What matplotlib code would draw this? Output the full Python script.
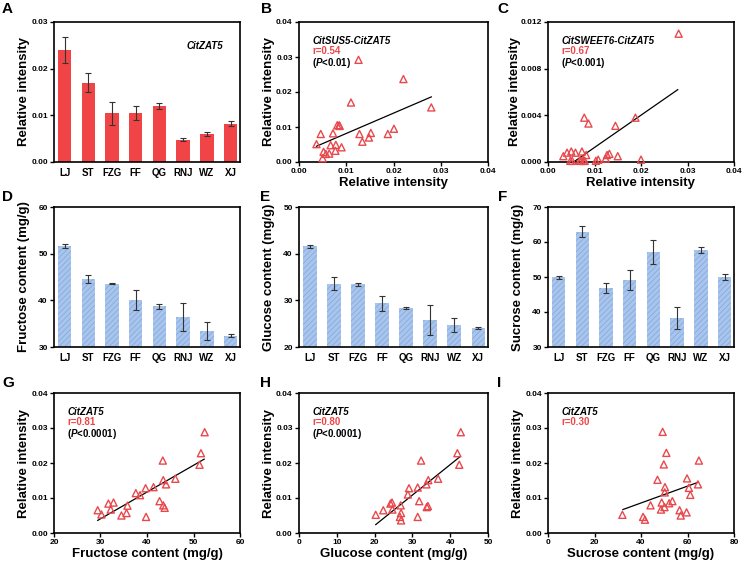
import matplotlib
matplotlib.use("Agg")
import matplotlib.pyplot as plt

# fonts: Arial-like bold everywhere
plt.rcParams['font.family'] = ['Liberation Sans', 'DejaVu Sans']
plt.rcParams['font.weight'] = 'bold'
plt.rcParams['axes.labelweight'] = 'bold'
plt.rcParams['mathtext.fontset'] = 'custom'
plt.rcParams['mathtext.rm'] = 'Liberation Sans:bold'
plt.rcParams['mathtext.it'] = 'Liberation Sans:bold:italic'
plt.rcParams['hatch.linewidth'] = 0.6

# ---------------- data ----------------
cultivars = ["LJ", "ST", "FZG", "FF", "QG", "RNJ", "WZ", "XJ"]

zat5_mean = [0.0240, 0.0170, 0.0104, 0.0104, 0.0120, 0.0048, 0.0060, 0.0082]
zat5_err = [0.0028, 0.0021, 0.0025, 0.0015, 0.0007, 0.0004, 0.0004, 0.0005]

fructose_mean = [51.7, 44.6, 43.6, 40.1, 38.7, 36.4, 33.4, 32.4]
fructose_err = [0.4, 0.9, 0.1, 2.2, 0.6, 3.0, 1.9, 0.3]

glucose_mean = [41.6, 33.6, 33.4, 29.4, 28.4, 25.7, 24.8, 24.1]
glucose_err = [0.35, 1.35, 0.25, 1.6, 0.15, 3.2, 1.5, 0.2]

sucrose_mean = [49.9, 63.0, 46.9, 49.1, 57.2, 38.2, 57.7, 50.0]
sucrose_err = [0.4, 1.6, 1.5, 2.9, 3.5, 3.1, 0.8, 0.9]

# B: CitSUS5 vs CitZAT5
b_x = [0.0037, 0.0046, 0.0050, 0.0052, 0.0057, 0.0064, 0.0067, 0.0072, 0.0078, 0.0077,
       0.0081, 0.0085, 0.0086, 0.0090, 0.0110, 0.0126, 0.0128, 0.0134, 0.0148, 0.0152,
       0.0188, 0.0201, 0.0221, 0.0280]
b_y = [0.0051, 0.0080, 0.0011, 0.0029, 0.0023, 0.0024, 0.0048, 0.0082, 0.0049, 0.0032,
       0.0105, 0.0105, 0.0103, 0.0042, 0.0170, 0.0292, 0.0080, 0.0058, 0.0070, 0.0083,
       0.0080, 0.0095, 0.0237, 0.0156]
b_fit_x = [0.0037, 0.0280]
b_fit_y = [0.0045, 0.0186]

# C: CitSWEET6 vs CitZAT5
c_x = [0.0033, 0.0041, 0.0048, 0.0050, 0.0052, 0.0059, 0.0068, 0.0073, 0.0071, 0.0076,
       0.0078, 0.0082, 0.0087, 0.0103, 0.0108, 0.0124, 0.0127, 0.0132, 0.0145, 0.0150,
       0.0188, 0.0200, 0.0281, 0.0079]
c_y = [0.0005, 0.0008, 0.0001, 0.0009, 0.0001, 0.0008, 0.0001, 0.0009, 0.0001, 0.0001,
       0.0038, 0.0006, 0.0033, 0.0001, 0.0002, 0.0003, 0.0006, 0.0007, 0.0031, 0.0005,
       0.0038, 0.0002, 0.0110, 0.0001]
c_fit_x = [0.0055, 0.0279]
c_fit_y = [0.0, 0.0062]

# G: fructose vs CitZAT5
g_x = [29.4, 30.2, 31.7, 32.2, 32.8, 34.5, 35.6, 35.8, 37.6, 38.5, 39.7, 39.8,
       41.4, 42.7, 43.4, 43.5, 43.5, 43.8, 44.1, 46.1, 51.3, 51.6, 52.4]
g_y = [0.0065, 0.0053, 0.0084, 0.0067, 0.0087, 0.0050, 0.0057, 0.0078, 0.0114, 0.0108,
       0.0128, 0.0046, 0.0131, 0.0091, 0.0207, 0.0151, 0.0079, 0.0072, 0.0139, 0.0155,
       0.0195, 0.0228, 0.0288]
g_fit_x = [29.4, 52.3]
g_fit_y = [0.0036, 0.0211]

# H: glucose vs CitZAT5
h_x = [20.3, 22.3, 24.2, 24.6, 24.7, 26.7, 26.9, 27.0, 27.0, 28.8, 29.1, 31.4,
       31.4, 31.8, 32.3, 33.7, 33.8, 34.1, 34.2, 36.8, 41.9, 42.4, 42.8]
h_y = [0.0052, 0.0065, 0.0084, 0.0087, 0.0067, 0.0046, 0.0079, 0.0057, 0.0036, 0.0110,
       0.0128, 0.0130, 0.0046, 0.0091, 0.0207, 0.0139, 0.0074, 0.0077, 0.0151, 0.0155,
       0.0228, 0.0195, 0.0288]
h_fit_x = [20.3, 42.6]
h_fit_y = [0.0024, 0.0218]

# I: sucrose vs CitZAT5
i_x = [32.0, 40.9, 41.7, 44.1, 47.1, 48.6, 48.9, 49.3, 49.8, 50.1, 50.2, 50.3,
       50.9, 52.1, 53.5, 56.6, 57.1, 59.6, 59.8, 60.6, 61.2, 64.5, 64.9]
i_y = [0.0052, 0.0046, 0.0038, 0.0079, 0.0152, 0.0067, 0.0087, 0.0289, 0.0196, 0.0074,
       0.0116, 0.0131, 0.0229, 0.0085, 0.0091, 0.0065, 0.0050, 0.0059, 0.0156, 0.0129,
       0.0109, 0.0139, 0.0207]
i_fit_x = [32.2, 64.6]
i_fit_y = [0.0067, 0.0145]

# ---------------- styles ----------------
RED_BAR = "#f04446"
RED_MK = "#e8484c"
BLUE_BAR = "#a8c5ee"
BLUE_HATCH = "#89aadb"
TICK_FS = 6
LABEL_FS = 9.5
NOTE_FS = 7

W, H = 745, 565
fig = plt.figure(figsize=(W / 100, H / 100), dpi=100)


def make_ax(left, top, width, height=140):
    # pixel box -> figure fraction
    return fig.add_axes([left / W, 1 - (top + height) / H, width / W, height / H])


def style(ax, ylab_px=24):
    for s in ax.spines.values():
        s.set_linewidth(1.2)
    ax.tick_params(direction="out", length=3, width=1, labelsize=TICK_FS, pad=1.5)
    # y label: right edge of the rotated text sits ylab_px pixels left of the axes
    w_px = ax.get_position().width * W
    ax.yaxis.set_label_coords(-ylab_px / w_px, 0.5)


def bar_panel(ax, mean, err, color, ylim, yticks, ylabel, hatch=None, ytick_fmt="{:.0f}"):
    x = range(len(cultivars))
    if hatch:
        ax.bar(x, mean, width=0.57, color=color, edgecolor=BLUE_HATCH, linewidth=0, hatch=hatch)
    else:
        ax.bar(x, mean, width=0.57, color=color, linewidth=0)
    ax.errorbar(x, mean, yerr=err, fmt="none", ecolor="#333333", elinewidth=0.8,
                capsize=2, capthick=0.8)
    ax.set_xlim(-0.45, 7.4)
    ax.set_ylim(*ylim)
    ax.set_yticks(yticks)
    ax.set_yticklabels([ytick_fmt.format(v) for v in yticks])
    ax.set_xticks(list(x))
    ax.set_xticklabels(cultivars)
    ax.set_ylabel(ylabel, fontsize=LABEL_FS)
    style(ax)
    ax.tick_params(axis="x", length=0, pad=4, labelsize=7)


def scatter_panel(ax, x, y, fx, fy, xlim, xticks, ylim, yticks, xlabel, xfmt, yfmt,
                  ylab_px=24):
    ax.scatter(x, y, marker="^", facecolors="none", edgecolors=RED_MK, s=26,
               linewidths=1.0, zorder=3, clip_on=False)
    ax.plot(fx, fy, color="black", lw=0.9, zorder=2)
    ax.set_xlim(*xlim)
    ax.set_ylim(*ylim)
    ax.set_xticks(xticks)
    ax.set_xticklabels([xfmt.format(v) for v in xticks])
    ax.set_yticks(yticks)
    ax.set_yticklabels([yfmt.format(v) for v in yticks])
    ax.set_xlabel(xlabel, fontsize=LABEL_FS, labelpad=1)
    ax.set_ylabel("Relative intensity", fontsize=LABEL_FS)
    style(ax, ylab_px)


def notes(ax, x, gene, r, p=None):
    ax.text(x, 0.865, gene, transform=ax.transAxes, fontsize=NOTE_FS, style="italic",
            va="center", ha="left")
    ax.text(x, 0.79, r, transform=ax.transAxes, fontsize=NOTE_FS, color=RED_BAR,
            va="center", ha="left")
    if p:
        ax.text(x, 0.71, p, transform=ax.transAxes, fontsize=NOTE_FS,
                va="center", ha="left")


# ---------------- row 1 ----------------
axA = make_ax(54, 22, 186)
bar_panel(axA, zat5_mean, zat5_err, RED_BAR, (0, 0.03), [0, 0.01, 0.02, 0.03],
          "Relative intensity", ytick_fmt="{:.2f}")
axA.text(0.81, 0.83, "CitZAT5", transform=axA.transAxes, fontsize=NOTE_FS,
         style="italic", ha="center", va="center")

axB = make_ax(299, 22, 189)
scatter_panel(axB, b_x, b_y, b_fit_x, b_fit_y, (0, 0.04), [0, 0.01, 0.02, 0.03, 0.04],
              (0, 0.04), [0, 0.01, 0.02, 0.03, 0.04], "Relative intensity", "{:.2f}", "{:.2f}")
notes(axB, 0.07, "CitSUS5-CitZAT5", "r=0.54", "($\\mathit{P}$<0.01)")

axC = make_ax(548, 22, 186)
scatter_panel(axC, c_x, c_y, c_fit_x, c_fit_y, (0, 0.04), [0, 0.01, 0.02, 0.03, 0.04],
              (0, 0.012), [0, 0.004, 0.008, 0.012], "Relative intensity", "{:.2f}", "{:.3f}",
              ylab_px=27)
notes(axC, 0.07, "CitSWEET6-CitZAT5", "r=0.67", "($\\mathit{P}$<0.001)")

# ---------------- row 2 ----------------
axD = make_ax(54, 207, 186)
bar_panel(axD, fructose_mean, fructose_err, BLUE_BAR, (30, 60), [30, 40, 50, 60],
          "Fructose content (mg/g)", hatch="//////")

axE = make_ax(299, 207, 189)
bar_panel(axE, glucose_mean, glucose_err, BLUE_BAR, (20, 50), [20, 30, 40, 50],
          "Glucose content (mg/g)", hatch="//////")

axF = make_ax(548, 207, 186)
bar_panel(axF, sucrose_mean, sucrose_err, BLUE_BAR, (30, 70), [30, 40, 50, 60, 70],
          "Sucrose content (mg/g)", hatch="//////")

# ---------------- row 3 ----------------
zat_ticks = [0, 0.01, 0.02, 0.03, 0.04]

axG = make_ax(54, 393, 186)
scatter_panel(axG, g_x, g_y, g_fit_x, g_fit_y, (20, 60), [20, 30, 40, 50, 60],
              (0, 0.04), zat_ticks, "Fructose content (mg/g)", "{:.0f}", "{:.2f}")
notes(axG, 0.07, "CitZAT5", "r=0.81", "($\\mathit{P}$<0.0001)")

axH = make_ax(299, 393, 189)
scatter_panel(axH, h_x, h_y, h_fit_x, h_fit_y, (0, 50), [0, 10, 20, 30, 40, 50],
              (0, 0.04), zat_ticks, "Glucose content (mg/g)", "{:.0f}", "{:.2f}")
notes(axH, 0.07, "CitZAT5", "r=0.80", "($\\mathit{P}$<0.0001)")

axI = make_ax(548, 393, 186)
scatter_panel(axI, i_x, i_y, i_fit_x, i_fit_y, (0, 80), [0, 20, 40, 60, 80],
              (0, 0.04), zat_ticks, "Sucrose content (mg/g)", "{:.0f}", "{:.2f}")
notes(axI, 0.07, "CitZAT5", "r=0.30")

# ---------------- panel letters ----------------
letters = ["A", "B", "C", "D", "E", "F", "G", "H", "I"]
letter_px = [(2, 2), (261, 2), (497, 2), (2, 190), (260, 190), (498, 190),
             (2, 376), (260, 376), (497, 376)]
for lab, (px, py) in zip(letters, letter_px):
    fig.text(px / W, 1 - py / H, lab, fontsize=11, fontweight="bold", va="top", ha="left")

fig.savefig("out.png", dpi=100)
